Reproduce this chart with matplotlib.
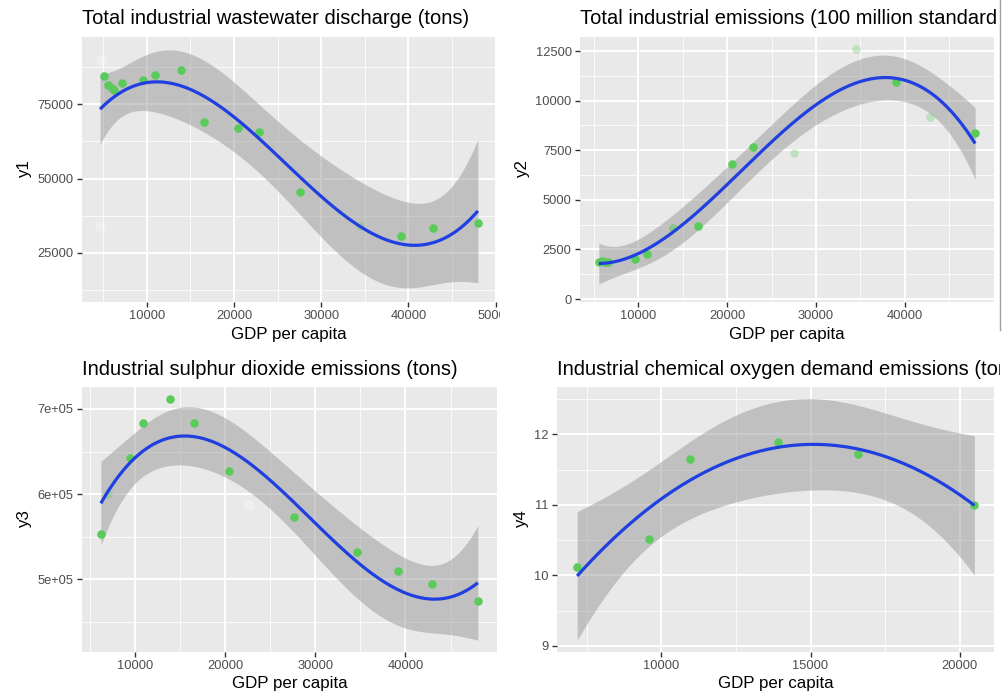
import numpy as np
import matplotlib
matplotlib.use("Agg")
import matplotlib.pyplot as plt
from matplotlib.ticker import FixedLocator, FuncFormatter
from matplotlib.transforms import Bbox, TransformedBbox
from matplotlib.lines import Line2D
from math import gamma, sqrt, pi

# ---------------- data ----------------
titles = [
    "Total industrial wastewater discharge (tons)",
    "Total industrial emissions (100 million standard cubic meters)",
    "Industrial sulphur dioxide emissions (tons)",
    "Industrial chemical oxygen demand emissions (tons)",
]
ylabels = ["y1", "y2", "y3", "y4"]
xlabel = "GDP per capita"

x1 = [4650, 4840, 5130, 5600, 5990, 6290, 7140, 9550, 10990, 13930, 16600,
      20470, 22910, 27610, 34460, 39160, 42870, 47960]
y1 = [34000, 89900, 84500, 81500, 80600, 79800, 82300, 83200, 85000, 86600,
      69000, 67100, 65800, 45300, 34000, 30700, 33400, 35000]
v1 = ["ghost", "ghost", "on", "on", "on", "on", "on", "on", "on", "on", "on",
      "on", "on", "on", "faint", "on", "on", "on"]

x2 = [5530, 5850, 6200, 6550, 9620, 11010, 13840, 16670, 20510, 22930, 27520,
      34530, 39080, 42810, 47950]
y2 = [1850, 1900, 1880, 1870, 2000, 2270, 3560, 3680, 6790, 7660, 7370,
      12590, 10920, 9190, 8380]
v2 = ["on", "on", "on", "on", "on", "on", "half", "on", "on", "on", "faint",
      "faint", "on", "faint", "on"]

x3 = [6240, 7070, 9450, 10920, 13910, 16610, 20490, 22660, 27640, 34590,
      39160, 42970, 48020]
y3 = [553000, 600300, 642200, 683300, 711800, 683700, 627700, 587400,
      573000, 532300, 510100, 494800, 474900]
v3 = ["on", "faint", "on", "on", "on", "on", "on", "ghost", "on", "on",
      "on", "on", "on"]

x4 = [7170, 9590, 10960, 13920, 16600, 20500]
y4 = [10.12, 10.515, 11.656, 11.89, 11.717, 11.0]
v4 = ["on", "on", "on", "on", "on", "on"]

degrees = [3, 3, 3, 2]

# ---------------- style ----------------
FONT = "Liberation Sans"
plt.rcParams["font.family"] = [FONT, "DejaVu Sans"]
BG = "#E9E9E9"
BAND = "#999999"
LINE = "#1F3FE0"
PT = "#5ACB5A"
TICKC = "#4D4D4D"
ALPHA = {"on": 1.0, "half": 0.6, "faint": 0.3}

W, H = 1004, 698
fig = plt.figure(figsize=(W / 100, H / 100), dpi=100)
fig.patch.set_facecolor("white")


def t975(df):
    c = gamma((df + 1) / 2) / (sqrt(df * pi) * gamma(df / 2))
    xs = np.linspace(0, 30, 300001)
    pdf = c * (1 + xs ** 2 / df) ** (-(df + 1) / 2)
    cdf = 0.5 + np.concatenate([[0], np.cumsum((pdf[1:] + pdf[:-1]) / 2 * np.diff(xs))])
    return float(np.interp(0.975, cdf, xs))


def poly_fit(x, y, deg, ng=200):
    x = np.asarray(x, float)
    y = np.asarray(y, float)
    m, s = x.mean(), x.std()
    z = (x - m) / s
    X = np.vander(z, deg + 1)
    beta, *_ = np.linalg.lstsq(X, y, rcond=None)
    r = y - X @ beta
    n, p = X.shape
    s2 = (r @ r) / (n - p)
    cov = s2 * np.linalg.inv(X.T @ X)
    xg = np.linspace(x.min(), x.max(), ng)
    Xg = np.vander((xg - m) / s, deg + 1)
    fit = Xg @ beta
    se = np.sqrt(np.sum((Xg @ cov) * Xg, axis=1))
    t = t975(n - p)
    return xg, fit, fit - t * se, fit + t * se


def px_axes(l, t, r, b):
    return fig.add_axes([l / W, 1 - b / H, (r - l) / W, (b - t) / H])


panels = [
    dict(box=(82, 37, 496, 302), x=x1, y=y1, v=v1,
         xlim=(2580, 50040), ylim=(8390, 97675),
         xmaj=[10000, 20000, 30000, 40000, 50000],
         xmin=[5000, 15000, 25000, 35000, 45000],
         ymaj=[25000, 50000, 75000], ymin=[12500, 37500, 62500, 87500],
         yfmt=lambda v, p: f"{v:.0f}"),
    dict(box=(580, 37, 994, 302), x=x2, y=y2, v=v2,
         xlim=(3409, 50071), ylim=(-151, 13206),
         xmaj=[10000, 20000, 30000, 40000],
         xmin=[5000, 15000, 25000, 35000, 45000],
         ymaj=[0, 2500, 5000, 7500, 10000, 12500],
         ymin=[1250, 3750, 6250, 8750, 11250],
         yfmt=lambda v, p: f"{v:.0f}"),
    dict(box=(82, 387.3, 496.7, 651.7), x=x3, y=y3, v=v3,
         xlim=(4151, 50109), ylim=(414970, 725480),
         xmaj=[10000, 20000, 30000, 40000],
         xmin=[5000, 15000, 25000, 35000, 45000],
         ymaj=[500000, 600000, 700000], ymin=[450000, 550000, 650000],
         yfmt=lambda v, p: f"{v / 1e5:.0f}e+05"),
    dict(box=(557.3, 387.3, 994.3, 651.7), x=x4, y=y4, v=v4,
         xlim=(6504, 21166), ylim=(8.919, 12.666),
         xmaj=[10000, 15000, 20000], xmin=[7500, 12500, 17500],
         ymaj=[9, 10, 11, 12], ymin=[9.5, 10.5, 11.5, 12.5],
         yfmt=lambda v, p: f"{v:.0f}"),
]

axes = []
title_artists = []
for i, P in enumerate(panels):
    ax = px_axes(*P["box"])
    axes.append(ax)
    ax.set_facecolor(BG)
    for sp in ax.spines.values():
        sp.set_visible(False)
    ax.set_xlim(*P["xlim"])
    ax.set_ylim(*P["ylim"])
    ax.xaxis.set_major_locator(FixedLocator(P["xmaj"]))
    ax.xaxis.set_minor_locator(FixedLocator(P["xmin"]))
    ax.yaxis.set_major_locator(FixedLocator(P["ymaj"]))
    ax.yaxis.set_minor_locator(FixedLocator(P["ymin"]))
    ax.xaxis.set_major_formatter(FuncFormatter(lambda v, p: f"{v:.0f}"))
    ax.yaxis.set_major_formatter(FuncFormatter(P["yfmt"]))
    ax.grid(which="major", color="white", lw=1.4, zorder=0)
    ax.grid(which="minor", color="white", lw=0.7, alpha=0.8, zorder=0)
    ax.set_axisbelow(True)
    ax.tick_params(which="major", length=3.5, width=1.0, color="#333333",
                   labelsize=9.3, labelcolor=TICKC, pad=2.5)
    ax.tick_params(which="minor", length=0)

    xg, fit, lo, hi = poly_fit(P["x"], P["y"], degrees[i])
    ax.fill_between(xg, lo, hi, color=BAND, alpha=0.5, lw=0, zorder=2)

    xs = np.asarray(P["x"], float)
    ys = np.asarray(P["y"], float)
    vis = np.asarray(P["v"])
    for key, a in ALPHA.items():
        sel = vis == key
        if sel.any():
            ax.scatter(xs[sel], ys[sel], s=38, color=PT, alpha=a, lw=0, zorder=3)
    gh = vis == "ghost"
    if gh.any():
        ax.scatter(xs[gh], ys[gh], s=60, color="white", alpha=0.3, lw=0, zorder=3)

    ax.plot(xg, fit, color=LINE, lw=2.3, zorder=4, solid_capstyle="butt")

    ax.set_xlabel(xlabel, fontsize=12.2, labelpad=3, color="black")
    ax.set_ylabel(ylabels[i], fontsize=12.2, labelpad=4, color="black")
    title_artists.append(ax.set_title(titles[i], loc="left", fontsize=14.5,
                                      pad=9, color="black"))

# the reference is a stitched screenshot: clip at the seams
fig.canvas.draw()
clip_left = TransformedBbox(Bbox([[0, 0], [500 / W, 1]]), fig.transFigure)
for lab in axes[0].get_xticklabels():
    lab.set_clip_on(True)
    lab.set_clip_box(clip_left)
clip_right = TransformedBbox(Bbox([[0, 0], [1000 / W, 1]]), fig.transFigure)
for t in (title_artists[1], title_artists[3]):
    t.set_clip_on(True)
    t.set_clip_box(clip_right)

# thin seam line at the right edge
fig.add_artist(Line2D([1000.5 / W, 1000.5 / W], [1 - 330 / H, 1], transform=fig.transFigure,
                      color="#A0A0A0", lw=1.0))

fig.savefig("out.png", dpi=100, facecolor="white")
